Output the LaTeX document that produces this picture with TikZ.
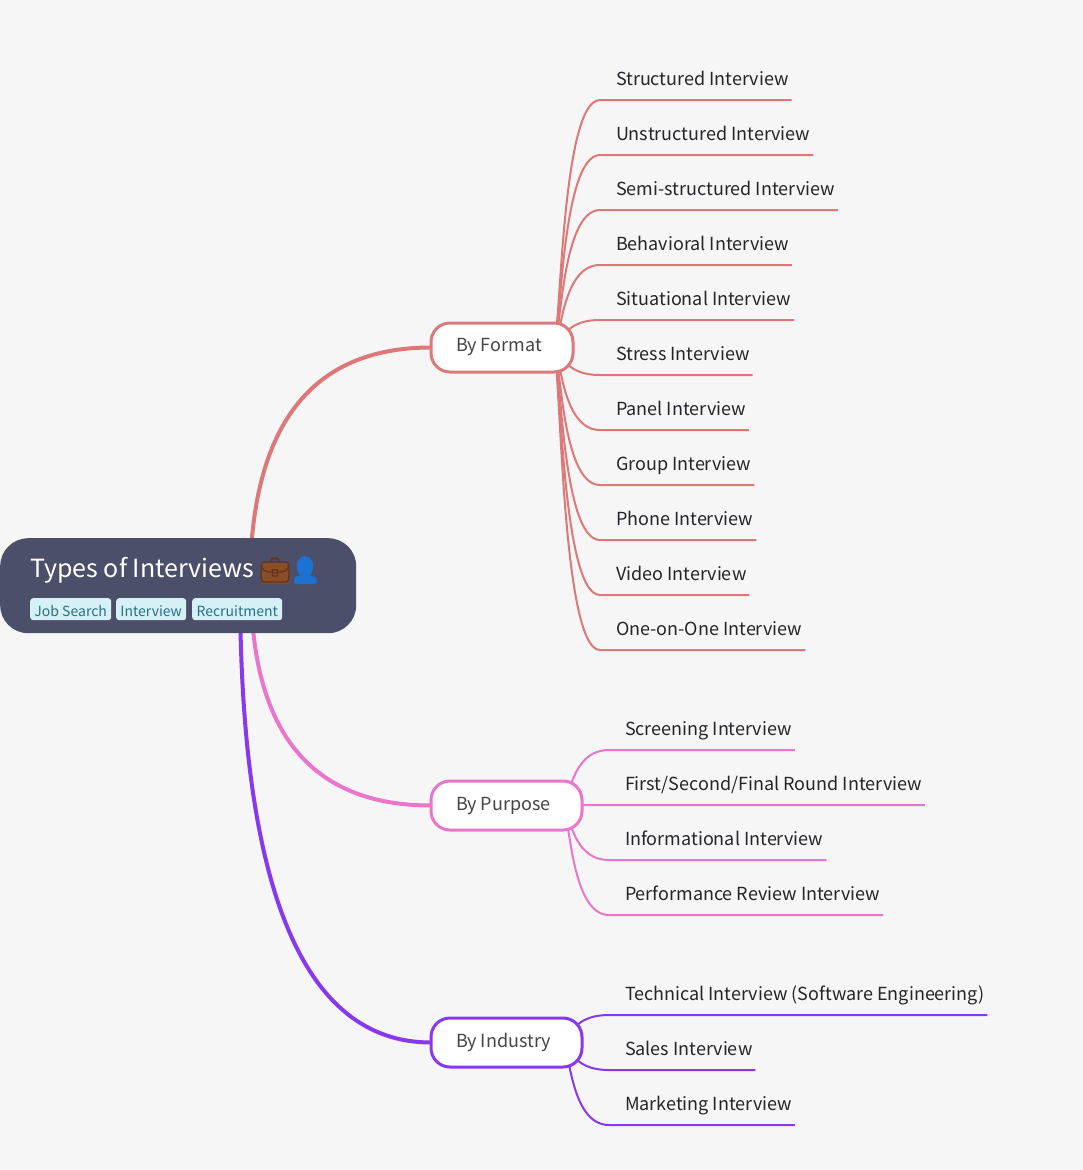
\documentclass[tikz,border=0pt]{standalone}
\usepackage{fontspec}
\setmainfont{Noto Sans CJK SC}
\newfontfamily\emojifont[FakeBold=1]{Noto Emoji}
\usetikzlibrary{calc}

\definecolor{pagebg}{HTML}{F6F6F6}
\definecolor{rootfill}{HTML}{4C4F69}
\definecolor{tagfill}{HTML}{D6F0F8}
\definecolor{tagtext}{HTML}{276F86}
\definecolor{subtext}{HTML}{444446}
\definecolor{leaftext}{HTML}{24242A}
\definecolor{formatred}{HTML}{DD7878}
\definecolor{purposepink}{HTML}{EA76CB}
\definecolor{industrymauve}{HTML}{8839EF}
\definecolor{briefbrown}{HTML}{8A4D2A}
\definecolor{briefdark}{HTML}{63341A}
\definecolor{personblue}{HTML}{1B72D2}

\pgfdeclarelayer{backdrop}
\pgfdeclarelayer{links}
\pgfsetlayers{backdrop,links,main}

\begin{document}
\begin{tikzpicture}
[x=1pt,y=-1pt,
  rootDecorate/.style={shape=rectangle,fill=rootfill,rounded corners=28pt,inner sep=0pt,
    minimum width=356pt,minimum height=95pt,anchor=north west},
  titleDecorate/.style={text=white,inner sep=0pt,anchor=base west,font=\fontsize{25}{30}\selectfont},
  emojiDecorate/.style={inner sep=0pt,font=\fontsize{25}{30}\selectfont\emojifont},
  tagDecorate/.style={shape=rectangle,fill=tagfill,text=tagtext,rounded corners=3pt,inner sep=0pt,
    minimum height=22pt,anchor=north west,text height=15pt,text depth=1pt,font=\fontsize{14}{17}\selectfont},
  subDecorate/.style={shape=rectangle,fill=white,draw=#1,line width=3pt,rounded corners=19pt,
    anchor=north west,minimum height=49pt,inner xsep=25pt,inner ysep=0pt,outer sep=0pt,align=flush left,
    text=subtext,font=\fontsize{18}{22}\selectfont},
  leafDecorate/.style={anchor=south west,inner xsep=3pt,inner ysep=0pt,outer sep=0pt,
    text height=14pt,text depth=15pt,text=leaftext,font=\fontsize{18}{22}\selectfont},
  mainLink/.style={line width=4pt},
  leafLink/.style={line width=2pt}]
%% page
\begin{pgfonlayer}{backdrop}
\fill[pagebg] (0,0) rectangle (1083,1170);
\end{pgfonlayer}
\useasboundingbox (0,0) rectangle (1083,1170);
%% root and tags
\node (root) at (0,538) [rootDecorate] {};
\node (title) at (30,577) [titleDecorate] {Types of Interviews};
\fill[briefbrown,rounded corners=2pt] (261,563) rectangle (289,584);
\fill[personblue] (305,567) ellipse (8 and 10);
\fill[personblue,rounded corners=4pt] (293,584) -- (295,576) -- (316,576) -- (318,584) -- cycle;
\node (briefcase) at (275,570) [emojiDecorate,text=briefdark] {💼};
\node (person) at (305,569) [emojiDecorate,text=personblue] {👤};
\foreach \tagname/\x/\w/\tagtitle in {
  jobsearch/30/81/Job Search, interview/116/70/Interview, recruitment/192/90/Recruitment}
{
  \node (\tagname) at (\x,598) [tagDecorate,minimum width=\w pt] {\tagtitle};
}
%% branches
\node (format) at (431,323) [subDecorate=formatred,text width=92pt] {By Format};
\node (purpose) at (431,781) [subDecorate=purposepink,text width=101pt] {By Purpose};
\node (industry) at (431,1018) [subDecorate=industrymauve,text width=101pt] {By Industry};
\foreach \subname/\x/\linkcolor in {
  format/250/formatred, purpose/251/purposepink, industry/240/industrymauve}
{
  \coordinate (rootend) at (\x,585);
  \coordinate (corner) at (rootend |- \subname.west);
  \begin{pgfonlayer}{links}
    \draw[mainLink,\linkcolor] (rootend) .. controls ($(rootend)!0.667!(corner)$)
      and ($(\subname.west)!0.667!(corner)$) .. (\subname.west);
  \end{pgfonlayer}
}
%% leaves
\foreach \parentname/\linkcolor/\x/\leaflist in {
  format/formatred/613/{
    s1/Structured Interview/100, s2/Unstructured Interview/155,
    s3/Semi-structured Interview/210, s4/Behavioral Interview/265,
    s5/Situational Interview/320, s6/Stress Interview/375,
    s7/Panel Interview/430, s8/Group Interview/485,
    s9/Phone Interview/540, s10/Video Interview/595,
    s11/One-on-One Interview/650},
  purpose/purposepink/622/{
    p1/Screening Interview/750, p2/{First/Second/Final Round Interview}/805,
    p3/Informational Interview/860, p4/Performance Review Interview/915},
  industry/industrymauve/622/{
    i1/Technical Interview (Software Engineering)/1015,
    i2/Sales Interview/1070, i3/Marketing Interview/1125}}
{
  \foreach \leafname/\leaftitle/\y in \leaflist
  {
    \node (\leafname) at (\x,\y) [leafDecorate] {\leaftitle};
    \coordinate (start) at ([xshift=-20pt]\parentname.east);
    \coordinate (end) at ([xshift=-13pt]\leafname.south west);
    \coordinate (bend) at ($(start)!0.15!(end)$);
    \begin{pgfonlayer}{links}
      \draw[leafLink,\linkcolor] (start) .. controls ([xshift=8pt]start) and (bend |- end) .. (end) -- (\leafname.south east);
    \end{pgfonlayer}
  }
}
\end{tikzpicture}
\end{document}
